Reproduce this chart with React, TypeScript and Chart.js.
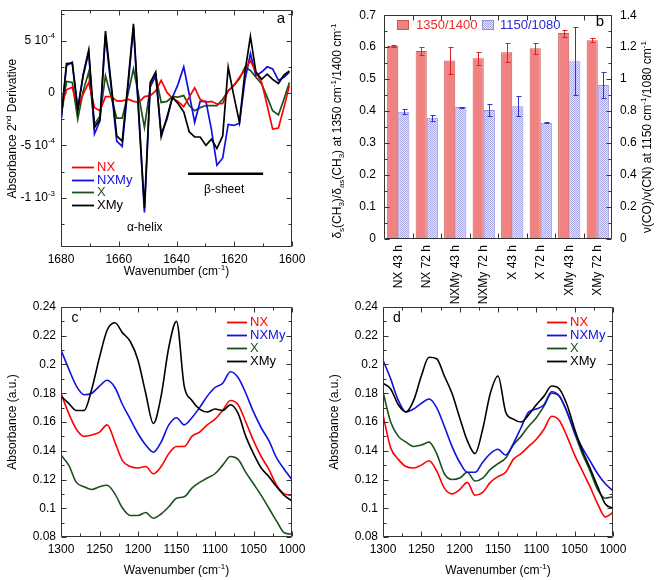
import React, { useEffect, useRef } from 'react';
import { Chart, registerables } from 'chart.js';

Chart.register(...registerables);

const FONT = '"Liberation Sans", Arial, Helvetica, sans-serif';
Chart.defaults.font.family = FONT;

const RED = '#ff0000';
const BLUE = '#1010e0';
const GREEN = '#1c501c';
const BLACK = '#000000';

// ---------- Panel a : second derivative (values in units of 1e-4) ----------
const aWavenumbers = [
  1680.0, 1678.1, 1676.1, 1674.2, 1672.3, 1670.4, 1668.4, 1666.5, 1664.6, 1662.6,
  1660.7, 1658.8, 1656.8, 1654.9, 1653.0, 1651.1, 1649.1, 1647.2, 1645.3, 1643.3,
  1641.4, 1639.5, 1637.5, 1635.6, 1633.7, 1631.8, 1629.8, 1627.9, 1626.0, 1624.0,
  1622.1, 1620.2, 1618.2, 1616.3, 1614.4, 1612.5, 1610.5, 1608.6, 1606.7, 1604.7,
  1602.8, 1600.9,
];
const aNX = [
  -1.4, 0.3, 0.55, -1.4, -0.1, 1.0, -1.4, -1.7, -0.35, -0.35,
  -0.75, -0.75, -0.6, -0.8, -0.9, -0.35, -0.25, 0.2, 1.2, 0.05,
  -0.5, -0.8, -1.3, -0.4, 0.5, -0.6, -0.9, -0.8, -1.05, -1.0,
  0.2, 0.7, 1.5, 2.2, 3.1, 2.0, 1.0, -1.2, -3.45, -3.35,
  -1.4, 0.7,
];
const aNXMy = [
  -2.65, 2.6, 2.95, -1.4, 1.65, 3.9, -3.9, -2.65, 5.5, 0.5,
  -4.6, -5.1, 0.6, 6.3, -2.5, -11.4, 0.7, 1.65, -3.9, -2.5,
  -0.4, 0.8, 2.5, -0.1, -2.8, -0.8, -0.8, -3.5, -6.9, -6.2,
  -3.0, -3.1, -2.9, 1.2, 3.75, 1.65, 2.0, 2.5, 2.3, 1.2,
  1.5, 2.0,
];
const aX = [
  -2.3, 1.1, 1.0, -2.5, 0.2, 2.0, -3.0, -2.2, 1.65, -0.4,
  -2.4, -2.4, -0.1, 2.3, -0.4, -3.3, 0.55, 1.65, -0.9, -0.8,
  -0.35, -0.4, -0.25, -1.2, -1.7, -1.4, -1.2, -1.2, -1.2, -0.6,
  0.2, 0.7, 1.35, 2.45, 2.15, 1.5, 0.85, -0.4, -1.7, -2.1,
  -0.6, 1.0,
];
const aXMy = [
  -2.65, 2.8, 2.85, -1.7, 1.8, 4.1, -3.3, -2.5, 5.9, 0.8,
  -4.1, -4.6, 1.0, 6.6, -2.2, -11.0, 1.0, 2.0, -4.2, -2.3,
  -0.4, -1.0, -1.8, -3.7, -4.2, -4.2, -5.0, -4.4, -5.3, -4.1,
  2.45, -0.2, -2.8, 2.0, 5.4, 2.0, 1.3, 1.8, 1.3, 0.9,
  1.7, 2.1,
];
const aXTicks = [1600, 1620, 1640, 1660, 1680];
const aYTicks = [-10, -5, 0, 5];
type Seg = [string, number];
const aYTickLabels: Seg[][] = [
  [['-1 10', 0], ['-3', 1]],
  [['-5 10', 0], ['-4', 1]],
  [['0', 0]],
  [['5 10', 0], ['-4', 1]],
];
const aHelix = { text: 'α-helix', x: 1651, y: -12.9 };
const aSheet = { text: 'β-sheet', x: 1623.5, y: -9.25 };
const aSheetBar = { from: 1636, to: 1610, y: -7.7 };

// ---------- Panel b : band ratios ----------
const bCategories = ['NX 43 h', 'NX 72 h', 'NXMy 43 h', 'NXMy 72 h', 'X 43 h', 'X 72 h', 'XMy 43 h', 'XMy 72 h'];
const b1350 = [0.604, 0.588, 0.558, 0.565, 0.584, 0.597, 0.644, 0.622];
const b1350Err = [0.004, 0.012, 0.041, 0.02, 0.03, 0.017, 0.011, 0.006];
const b1150 = [0.796, 0.758, 0.825, 0.807, 0.831, 0.727, 1.112, 0.963];
const b1150Err = [0.015, 0.017, 0.003, 0.035, 0.063, 0.002, 0.212, 0.079];
const bLeftTicks = [0, 0.1, 0.2, 0.3, 0.4, 0.5, 0.6, 0.7];
const bLeftLabels = ['0', '0.1', '0.2', '0.3', '0.4', '0.5', '0.6', '0.7'];
const bRightTicks = [0, 0.2, 0.4, 0.6, 0.8, 1.0, 1.2, 1.4];
const bRightLabels = ['0', '0.2', '0.4', '0.6', '0.8', '1', '1.2', '1.4'];

// ---------- Panels c, d : absorbance spectra ----------
const cdWavenumbers = [
  1300, 1290, 1280, 1270, 1260, 1250, 1240, 1230, 1220, 1210,
  1200, 1190, 1180, 1170, 1160, 1150, 1140, 1130, 1120, 1110,
  1100, 1090, 1080, 1070, 1060, 1050, 1040, 1030, 1020, 1010, 1000,
];
const cNX = [
  0.180, 0.166, 0.155, 0.150, 0.151, 0.153, 0.158, 0.146, 0.133, 0.129,
  0.128, 0.129, 0.124, 0.129, 0.138, 0.143, 0.143, 0.150, 0.153, 0.158,
  0.162, 0.168, 0.175, 0.172, 0.160, 0.147, 0.136, 0.127, 0.116, 0.110, 0.109,
];
const cNXMy = [
  0.210, 0.197, 0.185, 0.179, 0.180, 0.185, 0.189, 0.184, 0.172, 0.162,
  0.152, 0.144, 0.139, 0.146, 0.158, 0.163, 0.158, 0.163, 0.170, 0.178,
  0.184, 0.187, 0.195, 0.191, 0.180, 0.167, 0.156, 0.147, 0.135, 0.127, 0.120,
];
const cX = [
  0.137, 0.130, 0.118, 0.115, 0.113, 0.115, 0.116, 0.110, 0.100, 0.095,
  0.095, 0.097, 0.093, 0.096, 0.101, 0.107, 0.108, 0.114, 0.118, 0.121,
  0.124, 0.130, 0.136, 0.134, 0.125, 0.117, 0.109, 0.100, 0.091, 0.083, 0.082,
];
const cXMy = [
  0.178, 0.173, 0.168, 0.168, 0.183, 0.205, 0.224, 0.229, 0.222, 0.216,
  0.203, 0.180, 0.159, 0.178, 0.212, 0.230, 0.185, 0.175, 0.169, 0.167,
  0.169, 0.168, 0.172, 0.166, 0.150, 0.138, 0.128, 0.122, 0.115, 0.109, 0.105,
];
const dNX = [
  0.165, 0.142, 0.134, 0.129, 0.128, 0.130, 0.133, 0.126, 0.114, 0.110,
  0.113, 0.118, 0.109, 0.111, 0.118, 0.122, 0.125, 0.134, 0.138, 0.143,
  0.148, 0.155, 0.164, 0.161, 0.150, 0.137, 0.126, 0.115, 0.103, 0.094, 0.097,
];
const dNXMy = [
  0.203, 0.190, 0.175, 0.167, 0.169, 0.173, 0.176, 0.170, 0.157, 0.143,
  0.132, 0.125, 0.125, 0.132, 0.138, 0.141, 0.137, 0.145, 0.156, 0.167,
  0.169, 0.172, 0.181, 0.178, 0.167, 0.153, 0.142, 0.133, 0.124, 0.117, 0.112,
];
const dX = [
  0.181, 0.160, 0.150, 0.146, 0.143, 0.144, 0.146, 0.138, 0.124, 0.120,
  0.121, 0.125, 0.119, 0.121, 0.127, 0.131, 0.135, 0.144, 0.150, 0.157,
  0.163, 0.171, 0.180, 0.178, 0.167, 0.152, 0.138, 0.126, 0.113, 0.107, 0.108,
];
const dXMy = [
  0.187, 0.183, 0.172, 0.167, 0.175, 0.192, 0.205, 0.204, 0.192, 0.180,
  0.163, 0.147, 0.138, 0.155, 0.180, 0.192, 0.167, 0.162, 0.160, 0.165,
  0.172, 0.178, 0.185, 0.183, 0.172, 0.155, 0.140, 0.128, 0.115, 0.103, 0.100,
];
const cdXTicks = [1000, 1050, 1100, 1150, 1200, 1250, 1300];
const cdYTicks = [0.08, 0.1, 0.12, 0.14, 0.16, 0.18, 0.2, 0.22, 0.24];
const cdYLabels = ['0.08', '0.1', '0.12', '0.14', '0.16', '0.18', '0.2', '0.22', '0.24'];

const seriesNames = ['NX', 'NXMy', 'X', 'XMy'];
const seriesColors = [RED, BLUE, GREEN, BLACK];

// ---------- helpers ----------
function drawRich(ctx: CanvasRenderingContext2D, segs: Seg[], x: number, y: number, size: number,
  color: string, align: 'left' | 'center' | 'right' = 'center', rot = 0) {
  ctx.save();
  ctx.translate(x, y);
  if (rot) ctx.rotate(rot);
  ctx.fillStyle = color;
  ctx.textBaseline = 'middle';
  ctx.textAlign = 'left';
  const fontFor = (k: number) => `${k ? Math.round(size * 0.68) : size}px ${FONT}`;
  const widths = segs.map(([t, k]) => { ctx.font = fontFor(k); return ctx.measureText(t).width; });
  const total = widths.reduce((p, q) => p + q, 0);
  let cx = align === 'center' ? -total / 2 : align === 'right' ? -total : 0;
  segs.forEach(([t, k], i) => {
    ctx.font = fontFor(k);
    const dy = k === 1 ? -size * 0.36 : k === -1 ? size * 0.3 : 0;
    ctx.fillText(t, cx, dy);
    cx += widths[i];
  });
  ctx.restore();
}

function setTicks(values: number[]) {
  return (scale: any) => { scale.ticks = values.map((v) => ({ value: v })); };
}

type TickSpec = { major: number; minor: number };

function framePlugin(xSpec: TickSpec | null, ySpecs: { id: string; t: TickSpec; side: 'left' | 'right' | 'both' }[], catBounds = false) {
  return {
    id: 'frame',
    afterDatasetsDraw(chart: any) {
      const { ctx, chartArea: a } = chart;
      const L = Math.round(a.left) + 0.5;
      const R = Math.round(a.right) - 0.5;
      const T = Math.round(a.top) + 0.5;
      const B = Math.round(a.bottom) - 0.5;
      ctx.save();
      ctx.strokeStyle = '#333';
      ctx.lineWidth = 1;
      ctx.beginPath();
      ctx.rect(L, T, R - L, B - T);
      ctx.stroke();
      ctx.beginPath();
      const xs = chart.scales.x;
      if (catBounds) {
        const n = chart.data.labels.length;
        const half = (xs.getPixelForValue(1) - xs.getPixelForValue(0)) / 2;
        for (let i = 1; i < n; i++) {
          const px = Math.round(xs.getPixelForValue(i) - half) + 0.5;
          ctx.moveTo(px, B); ctx.lineTo(px, B - 5);
          ctx.moveTo(px, T); ctx.lineTo(px, T + 5);
        }
      } else if (xSpec) {
        const lo = Math.min(xs.min, xs.max), hi = Math.max(xs.min, xs.max);
        const k0 = Math.ceil(lo / xSpec.minor - 1e-6), k1 = Math.floor(hi / xSpec.minor + 1e-6);
        for (let k = k0; k <= k1; k++) {
          const v = k * xSpec.minor;
          const maj = Math.abs(v / xSpec.major - Math.round(v / xSpec.major)) < 1e-6;
          const len = maj ? 5 : 3;
          const px = Math.round(xs.getPixelForValue(v)) + 0.5;
          ctx.moveTo(px, B); ctx.lineTo(px, B - len);
          ctx.moveTo(px, T); ctx.lineTo(px, T + len);
        }
      }
      ySpecs.forEach(({ id, t, side }) => {
        const ys = chart.scales[id];
        const lo = Math.min(ys.min, ys.max), hi = Math.max(ys.min, ys.max);
        const k0 = Math.ceil(lo / t.minor - 1e-6), k1 = Math.floor(hi / t.minor + 1e-6);
        for (let k = k0; k <= k1; k++) {
          const v = k * t.minor;
          const maj = Math.abs(v / t.major - Math.round(v / t.major)) < 1e-6;
          const len = maj ? 5 : 3;
          const py = Math.round(ys.getPixelForValue(v)) + 0.5;
          if (side !== 'right') { ctx.moveTo(L, py); ctx.lineTo(L + len, py); }
          if (side !== 'left') { ctx.moveTo(R, py); ctx.lineTo(R - len, py); }
        }
      });
      ctx.stroke();
      ctx.restore();
    },
  };
}

function decoPlugin(fn: (chart: any) => void) {
  return { id: 'deco', afterDraw: (chart: any) => fn(chart) };
}

function drawLineLegend(ctx: CanvasRenderingContext2D, x0: number, x1: number, tx: number, y0: number, dy: number) {
  seriesNames.forEach((name, i) => {
    const y = Math.round(y0 + i * dy) + 0.5;
    ctx.save();
    ctx.strokeStyle = seriesColors[i];
    ctx.lineWidth = 1.8;
    ctx.beginPath();
    ctx.moveTo(x0, y); ctx.lineTo(x1, y);
    ctx.stroke();
    ctx.fillStyle = seriesColors[i];
    ctx.font = `13px ${FONT}`;
    ctx.textBaseline = 'middle';
    ctx.textAlign = 'left';
    ctx.fillText(name, tx, y);
    ctx.restore();
  });
}

const waveTitle: Seg[] = [['Wavenumber (cm', 0], ['-1', 1], [')', 0]];
const absTitle: Seg[] = [['Absorbance (a.u.)', 0]];

const tickFont = { family: FONT, size: 12 };
const noGrid = { display: false, drawTicks: false };
const noBorder = { display: false };

function lineDatasets(xs: number[], series: number[][], width: number, smooth: boolean) {
  return series.map((vals, i) => ({
    label: seriesNames[i],
    data: xs.map((x, j) => ({ x, y: vals[j] })),
    borderColor: seriesColors[i],
    backgroundColor: seriesColors[i],
    borderWidth: width,
    pointRadius: 0,
    fill: false,
    tension: 0,
    cubicInterpolationMode: smooth ? 'monotone' : 'default',
    order: i === 3 ? 0 : i + 1,
  }));
}

function makeA(): any {
  return {
    type: 'line',
    data: { datasets: lineDatasets(aWavenumbers, [aNX, aNXMy, aX, aXMy], 1.7, false) },
    options: {
      responsive: false,
      animation: false,
      layout: { padding: { left: 0, top: 10, right: 38, bottom: 0 } },
      plugins: { legend: { display: false }, tooltip: { enabled: false } },
      scales: {
        x: {
          type: 'linear', reverse: true, min: 1600, max: 1680,
          afterBuildTicks: setTicks(aXTicks),
          afterFit: (s: any) => { s.height = 43; },
          grid: noGrid, border: noBorder,
          ticks: { font: tickFont, color: '#000', padding: 5, maxRotation: 0, autoSkip: false, callback: (v: any) => String(v) },
        },
        y: {
          type: 'linear', min: -14.7, max: 7.9,
          afterBuildTicks: setTicks(aYTicks),
          afterFit: (s: any) => { s.width = 61; },
          grid: noGrid, border: noBorder,
          ticks: { font: tickFont, callback: () => '' },
        },
      },
    },
    plugins: [
      framePlugin({ major: 20, minor: 10 }, [{ id: 'y', t: { major: 5, minor: 2.5 }, side: 'both' }]),
      decoPlugin((chart) => {
        const { ctx, chartArea: a, scales } = chart;
        aYTicks.forEach((v, i) => drawRich(ctx, aYTickLabels[i], a.left - 6, scales.y.getPixelForValue(v), 12, '#000', 'right'));
        drawRich(ctx, [['Absorbance 2', 0], ['nd', 1], [' Derivative', 0]], 13, (a.top + a.bottom) / 2, 12, '#000', 'center', -Math.PI / 2);
        drawRich(ctx, waveTitle, (a.left + a.right) / 2, 272, 12, '#000');
        drawRich(ctx, [['a', 0]], 281, 19, 15, '#000');
        drawLineLegend(ctx, 72, 94, 97, 167, 12.7);
        drawRich(ctx, [[aHelix.text, 0]], scales.x.getPixelForValue(aHelix.x), scales.y.getPixelForValue(aHelix.y), 12, '#000');
        drawRich(ctx, [[aSheet.text, 0]], scales.x.getPixelForValue(aSheet.x), scales.y.getPixelForValue(aSheet.y), 12, '#000');
        ctx.save();
        ctx.strokeStyle = '#000';
        ctx.lineWidth = 2.5;
        ctx.beginPath();
        const by = scales.y.getPixelForValue(aSheetBar.y);
        ctx.moveTo(scales.x.getPixelForValue(aSheetBar.from), by);
        ctx.lineTo(scales.x.getPixelForValue(aSheetBar.to), by);
        ctx.stroke();
        ctx.restore();
      }),
    ],
  };
}

function makeHatch() {
  const c = document.createElement('canvas');
  c.width = 2; c.height = 2;
  const g = c.getContext('2d')!;
  g.fillStyle = '#e4e4fa'; g.fillRect(0, 0, 2, 2);
  g.fillStyle = '#a8a8e8'; g.fillRect(0, 0, 1, 1); g.fillRect(1, 1, 1, 1);
  return g.createPattern(c, 'repeat');
}

function makeB(): any {
  const hatch = makeHatch();
  const redFill = '#f08282';
  const redEdge = '#cc5555';
  const blueEdge = '#9090d8';
  return {
    type: 'bar',
    data: {
      labels: bCategories,
      datasets: [
        { label: '1350/1400', data: b1350, yAxisID: 'y', backgroundColor: redFill, borderColor: redEdge, borderWidth: 1, categoryPercentage: 0.78, barPercentage: 1.0 },
        { label: '1150/1080', data: b1150, yAxisID: 'y2', backgroundColor: hatch, borderColor: blueEdge, borderWidth: 1, categoryPercentage: 0.78, barPercentage: 1.0 },
      ],
    },
    options: {
      responsive: false,
      animation: false,
      layout: { padding: { left: 0, top: 10, right: 0, bottom: 0 } },
      plugins: { legend: { display: false }, tooltip: { enabled: false } },
      scales: {
        x: {
          type: 'category',
          afterFit: (s: any) => { s.height = 91; },
          grid: noGrid, border: noBorder,
          ticks: { font: tickFont, color: '#000', padding: 6, minRotation: 90, maxRotation: 90, autoSkip: false },
        },
        y: {
          type: 'linear', position: 'left', min: 0, max: 0.7,
          afterBuildTicks: setTicks(bLeftTicks),
          afterFit: (s: any) => { s.width = 64; },
          grid: noGrid, border: noBorder,
          ticks: { font: tickFont, color: '#000', padding: 8, callback: (_v: any, i: number) => bLeftLabels[i] },
        },
        y2: {
          type: 'linear', position: 'right', min: 0, max: 1.4,
          afterBuildTicks: setTicks(bRightTicks),
          afterFit: (s: any) => { s.width = 49; },
          grid: noGrid, border: noBorder,
          ticks: { font: tickFont, color: '#000', padding: 8, callback: (_v: any, i: number) => bRightLabels[i] },
        },
      },
    },
    plugins: [
      {
        id: 'errbars',
        afterDatasetsDraw(chart: any) {
          const { ctx } = chart;
          const errs = [b1350Err, b1150Err];
          const cols = ['#e02020', '#3434c8'];
          chart.data.datasets.forEach((ds: any, di: number) => {
            const meta = chart.getDatasetMeta(di);
            const ys = chart.scales[ds.yAxisID];
            ctx.save();
            ctx.strokeStyle = cols[di];
            ctx.lineWidth = 1;
            ctx.beginPath();
            meta.data.forEach((bar: any, i: number) => {
              const v = ds.data[i];
              const e = errs[di][i];
              const x = Math.round(bar.x) + 0.5;
              const yt = Math.round(ys.getPixelForValue(v + e)) + 0.5;
              const yb = Math.round(ys.getPixelForValue(v - e)) + 0.5;
              ctx.moveTo(x, yt); ctx.lineTo(x, yb);
              ctx.moveTo(x - 2, yt); ctx.lineTo(x + 3, yt);
              ctx.moveTo(x - 2, yb); ctx.lineTo(x + 3, yb);
            });
            ctx.stroke();
            ctx.restore();
          });
        },
      },
      framePlugin(null, [
        { id: 'y', t: { major: 0.1, minor: 0.05 }, side: 'left' },
        { id: 'y2', t: { major: 0.2, minor: 0.1 }, side: 'right' },
      ], true),
      decoPlugin((chart) => {
        const { ctx, chartArea: a } = chart;
        const cy = (a.top + a.bottom) / 2;
        drawRich(ctx, [['δ', 0], ['s', -1], ['(CH', 0], ['3', -1], [')/δ', 0], ['as', -1], ['(CH', 0], ['3', -1], [') at 1350 cm', 0], ['-1', 1], ['/1400 cm', 0], ['-1', 1]],
          18, cy + 4, 12, '#000', 'center', -Math.PI / 2);
        drawRich(ctx, [['ν(CO)/ν(CN) at 1150 cm', 0], ['-1', 1], ['/1080 cm', 0], ['-1', 1]],
          328, cy + 10, 12, '#000', 'center', -Math.PI / 2);
        drawRich(ctx, [['b', 0]], 280, 22, 15, '#000');
        // legend
        ctx.save();
        ctx.fillStyle = redFill; ctx.fillRect(77, 20, 12, 10);
        ctx.strokeStyle = redEdge; ctx.lineWidth = 1; ctx.strokeRect(77.5, 20.5, 11, 9);
        ctx.fillStyle = hatch as any; ctx.fillRect(162, 20, 12, 10);
        ctx.strokeStyle = blueEdge; ctx.strokeRect(162.5, 20.5, 11, 9);
        ctx.restore();
        drawRich(ctx, [[chart.data.datasets[0].label, 0]], 96, 25, 13, '#e8302a', 'left');
        drawRich(ctx, [[chart.data.datasets[1].label, 0]], 180, 25, 13, '#2a2ad0', 'left');
      }),
    ],
  };
}

function makeCD(series: number[][], leftW: number, rightPad: number, yTitleX: number, letter: string): any {
  return {
    type: 'line',
    data: { datasets: lineDatasets(cdWavenumbers, series, 1.6, true) },
    options: {
      responsive: false,
      animation: false,
      layout: { padding: { left: 0, top: 17, right: rightPad, bottom: 0 } },
      plugins: { legend: { display: false }, tooltip: { enabled: false } },
      scales: {
        x: {
          type: 'linear', reverse: true, min: 1000, max: 1300,
          afterBuildTicks: setTicks(cdXTicks),
          afterFit: (s: any) => { s.height = 43; },
          grid: noGrid, border: noBorder,
          ticks: { font: tickFont, color: '#000', padding: 5, maxRotation: 0, autoSkip: false, callback: (v: any) => String(v) },
        },
        y: {
          type: 'linear', min: 0.08, max: 0.24,
          afterBuildTicks: setTicks(cdYTicks),
          afterFit: (s: any) => { s.width = leftW; },
          grid: noGrid, border: noBorder,
          ticks: { font: tickFont, color: '#000', padding: 5, autoSkip: false, callback: (_v: any, i: number) => cdYLabels[i] },
        },
      },
    },
    plugins: [
      framePlugin({ major: 50, minor: 25 }, [{ id: 'y', t: { major: 0.02, minor: 0.01 }, side: 'both' }]),
      decoPlugin((chart) => {
        const { ctx, chartArea: a } = chart;
        drawRich(ctx, absTitle, yTitleX, (a.top + a.bottom) / 2, 12, '#000', 'center', -Math.PI / 2);
        drawRich(ctx, waveTitle, (a.left + a.right) / 2, 281, 12, '#000');
        drawRich(ctx, [[letter, 0]], a.left + 14, 28, 14, '#000');
        drawLineLegend(ctx, 227, 247, 250, 32, 13);
      }),
    ],
  };
}

function Panel({ left, top, width, height, make }: { left: number; top: number; width: number; height: number; make: () => any }) {
  const ref = useRef<HTMLCanvasElement>(null);
  useEffect(() => {
    const chart = new Chart(ref.current as HTMLCanvasElement, make());
    return () => chart.destroy();
  }, []);
  return <canvas ref={ref} width={width} height={height} style={{ position: 'absolute', left, top, width, height }} />;
}

export default function App() {
  return (
    <div style={{ position: 'fixed', left: 0, top: 0, width: 661, height: 580, background: '#fff', overflow: 'hidden' }}>
      <Panel left={0} top={0} width={330} height={290} make={makeA} />
      <Panel left={320} top={0} width={341} height={330} make={makeB} />
      <Panel left={0} top={290} width={330} height={290} make={() => makeCD([cNX, cNXMy, cX, cXMy], 61, 38, 13, 'c')} />
      <Panel left={320} top={290} width={341} height={290} make={() => makeCD([dNX, dNXMy, dX, dXMy], 63, 48, 15, 'd')} />
    </div>
  );
}
